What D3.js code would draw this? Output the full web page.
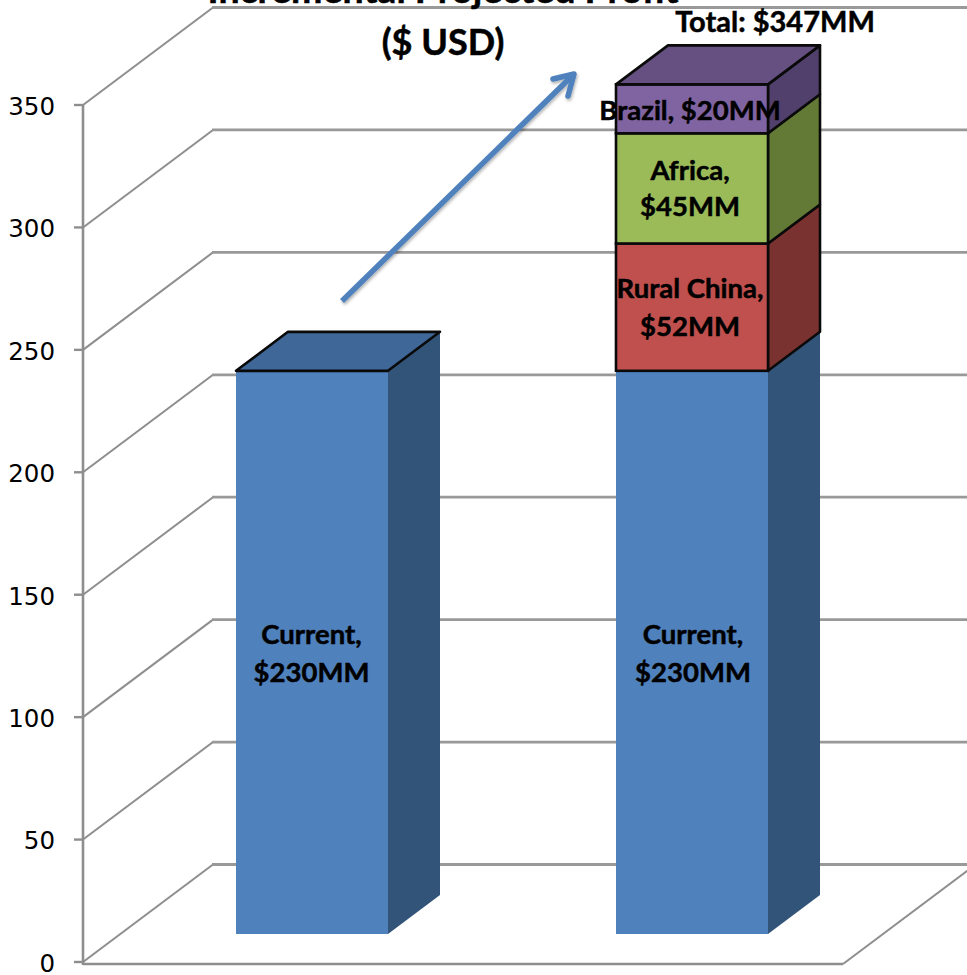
<!DOCTYPE html>
<html><head><meta charset="utf-8">
<script src="https://cdnjs.cloudflare.com/ajax/libs/d3/7.8.5/d3.min.js"></script>
<style>html,body{margin:0;padding:0;background:#fff}svg{display:block}</style>
</head><body><svg id="c" width="967" height="975"></svg>
<script>
const categories = ["Current", "Projected"];
const currentValues = [230, 230];
const ruralChinaValues = [0, 52];
const africaValues = [0, 45];
const brazilValues = [0, 20];
const tickValues = [0, 50, 100, 150, 200, 250, 300, 350];
const titleLines = ["Incremental Projected Profit", "($ USD)"];
const totalLabel = "Total: $347MM";
const segmentLabels = [
  [["Current,", "$230MM"], ["Current,", "$230MM"]],
  [[], ["Rural China,", "$52MM"]],
  [[], ["Africa,", "$45MM"]],
  [[], ["Brazil, $20MM"]]
];
const fronts = ["#4f81bd", "#c0504d", "#9bbb59", "#8064a2"];
const sides = ["#335479", "#7a3230", "#637a36", "#52406c"];
const tops = ["#3f6797", "#99403d", "#7c9647", "#664f81"];
const strokes = [false, true, true, true];

const svg = d3.select("#c");
const y = d3.scaleLinear().domain([0, 350]).range([962, 105]);
const wallDx = 130, wallDy = -97.5;
const barDx = 52, barDy = -39;
const baseShift = 28;
const x = d3.scaleOrdinal().domain(categories).range([236, 616]);
const barW = 152;
const grid = "#8e8e8e";

const gridG = svg.append("g").attr("fill", "none").attr("stroke", grid);
tickValues.forEach(t => {
  gridG.append("path").attr("stroke-width", 2)
    .attr("d", d3.line()([[83, y(t)], [83 + wallDx, y(t) + wallDy]]));
  gridG.append("path").attr("stroke-width", 2.8).attr("stroke", "#999")
    .attr("d", d3.line()([[83 + wallDx - 1, y(t) + wallDy], [967, y(t) + wallDy]]));
});
gridG.append("path").attr("stroke-width", 2.6)
  .attr("d", d3.line()([[83, y(0) + 2], [843, y(0) + 2]]));
gridG.append("path").attr("stroke-width", 2)
  .attr("d", d3.line()([[843, y(0) + 2], [843 + wallDx, y(0) + 2 + wallDy]]));
gridG.append("path").attr("stroke-width", 2.6)
  .attr("d", d3.line()([[83, y(350)], [83, y(0) + 3]]));
tickValues.forEach(t => {
  gridG.append("path").attr("stroke-width", 2.4).attr("d", d3.line()([[74, y(t)], [83, y(t)]]));
});
svg.append("g").selectAll("text").data(tickValues).join("text")
  .attr("x", 55).attr("y", d => y(d) + 1).attr("text-anchor", "end")
  .attr("dy", "0.36em").attr("font-family", "DejaVu Sans").attr("font-size", 24.5).attr("fill", "#000")
  .text(d => d);

const table = [currentValues, ruralChinaValues, africaValues, brazilValues];
const stack = categories.map((c, i) => {
  let acc = 0;
  return table.map((vals, s) => {
    const r = { c, i, s, v0: acc, v1: acc + vals[i] };
    acc = r.v1;
    return r;
  }).filter(r => r.v1 > r.v0);
});
const Y = v => y(v) - baseShift;
const barG = svg.append("g");
const ink = "#0a0a0a", inkW = 2.6;
stack.forEach(col => {
  col.forEach((d, k) => {
    const x0 = x(d.c), x1 = x0 + barW, yb = Y(d.v0), yt = Y(d.v1);
    const st = strokes[d.s] ? ink : "none";
    barG.append("path").attr("fill", sides[d.s]).attr("stroke", st).attr("stroke-width", inkW)
      .attr("stroke-linejoin", "round")
      .attr("d", d3.line()([[x1, yb], [x1 + barDx, yb + barDy], [x1 + barDx, yt + barDy], [x1, yt]]) + "Z");
    barG.append("rect").attr("x", x0).attr("y", yt).attr("width", barW).attr("height", yb - yt)
      .attr("fill", fronts[d.s]).attr("stroke", st).attr("stroke-width", inkW);
    if (k === col.length - 1) {
      barG.append("path").attr("fill", tops[d.s]).attr("stroke", ink).attr("stroke-width", inkW)
        .attr("stroke-linejoin", "round")
        .attr("d", d3.line()([[x0, yt], [x0 + barDx, yt + barDy], [x1 + barDx, yt + barDy], [x1, yt]]) + "Z");
    }
  });
});

const font = "Lato, Carlito, sans-serif";
function boldText(sel, size) {
  return sel.attr("text-anchor", "middle").attr("dy", "0.35em")
    .attr("font-family", font).attr("font-weight", 700).attr("font-size", size)
    .attr("fill", "#000").attr("stroke", "#000").attr("stroke-width", 0.5);
}
stack.forEach(col => col.forEach(d => {
  const lines = segmentLabels[d.s][d.i];
  const cx = x(d.c) + barW / 2 + (d.s === 0 ? (d.i === 1 ? 1 : -0.5) : -2);
  const lh = d.s === 2 ? 36 : 37.5;
  const cy = Y((d.v0 + d.v1) / 2) + (d.s === 3 ? 2 : d.s === 0 ? 1 : 0);
  lines.forEach((l, j) => {
    boldText(svg.append("text"), 27.5).attr("x", cx).attr("y", cy + (j - (lines.length - 1) / 2) * lh).text(l);
  });
}));
boldText(svg.append("text"), 29).attr("x", 775).attr("y", 22).text(totalLabel);

boldText(svg.append("text"), 37.5).attr("x", 443).attr("y", -10).text(titleLines[0]);
boldText(svg.append("text"), 36).attr("x", 443).attr("y", 42).text(titleLines[1]);

const f = svg.append("defs").append("filter").attr("id", "sh").attr("x", "-20%").attr("y", "-20%").attr("width", "140%").attr("height", "140%");
f.append("feDropShadow").attr("dx", 1).attr("dy", 2).attr("stdDeviation", 1.5).attr("flood-color", "#000").attr("flood-opacity", 0.3);
const ag = svg.append("g").attr("fill", "none").attr("stroke", "#4f81bd").attr("stroke-width", 5.5).attr("filter", "url(#sh)");
ag.append("path").attr("d", d3.line()([[342, 301], [574, 74]]));
ag.append("path").attr("stroke-linejoin", "round").attr("stroke-linecap", "round").attr("d", d3.line()([[553, 79], [574, 74], [568, 96]]));
</script></body></html>
